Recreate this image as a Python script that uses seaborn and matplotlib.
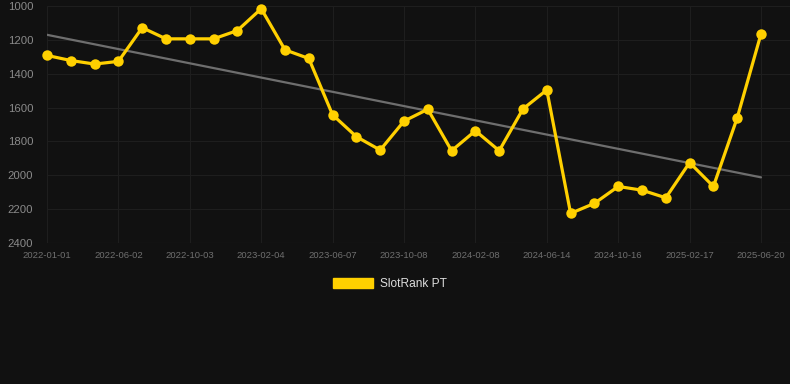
import numpy as np
import pandas as pd
import matplotlib
matplotlib.use("Agg")
import matplotlib.pyplot as plt
from matplotlib.patches import Patch
import seaborn as sns

# data (rank, lower is better)
dates = ["2022-01-01", "2022-02-21", "2022-04-12", "2022-06-02", "2022-07-13",
         "2022-08-23", "2022-10-03", "2022-11-13", "2022-12-25", "2023-02-04",
         "2023-03-17", "2023-04-27", "2023-06-07", "2023-07-18", "2023-08-28",
         "2023-10-08", "2023-11-18", "2023-12-29", "2024-02-08", "2024-03-21",
         "2024-05-03", "2024-06-14", "2024-07-25", "2024-09-04", "2024-10-16",
         "2024-11-26", "2025-01-07", "2025-02-17", "2025-03-30", "2025-05-10",
         "2025-06-20"]
rank = [1292, 1322, 1343, 1327, 1128, 1194, 1194, 1194, 1145, 1016,
        1259, 1310, 1643, 1772, 1851, 1680, 1610, 1855, 1737, 1855,
        1608, 1496, 2225, 2166, 2066, 2088, 2133, 1925, 2066, 1661,
        1165]
y_ticks = [1000, 1200, 1400, 1600, 1800, 2000, 2200, 2400]

df = pd.DataFrame({"date": dates, "rank": rank})
df["pos"] = np.arange(len(df))

bg = "#111111"
gold = "#FFD000"

sns.set_theme(style="dark")
plt.rcParams["font.family"] = ["Liberation Sans", "DejaVu Sans"]

fig = plt.figure(figsize=(7.9, 3.84), dpi=100, facecolor=bg)
ax = fig.add_axes([47 / 790, 1 - 243 / 384, 1 - 47 / 790, (243 - 6) / 384])
ax.set_facecolor(bg)

# trend line (least squares fit)
k, b = np.polyfit(df["pos"], df["rank"], 1)
ax.plot([0, len(df) - 1], [b, k * (len(df) - 1) + b], color="#6e6e6e", lw=1.6, zorder=2)

sns.lineplot(data=df, x="pos", y="rank", ax=ax, color=gold, lw=2.3,
             marker="o", markersize=7.5, markeredgewidth=0, zorder=3, clip_on=False)

ax.set_xlim(0, len(df) - 1 + 29 / 23.8)
ax.set_ylim(2400, 1000)
ax.set_yticks(y_ticks)
ax.set_xticks(df["pos"][::3])
ax.set_xticklabels(df["date"][::3])
ax.tick_params(axis="y", colors="#8a8a8a", labelsize=8.2, length=0, pad=10)
ax.tick_params(axis="x", colors="#6f6f6f", labelsize=6.8, length=0, pad=6)
ax.grid(True, color="#1e1e1e", lw=0.8)
ax.axhline(2400, color="#2a2a2a", lw=0.8, zorder=1)
ax.set_xlabel("")
ax.set_ylabel("")
for s in ax.spines.values():
    s.set_visible(False)

handle = Patch(facecolor=gold, edgecolor=gold)
fig.legend([handle], ["SlotRank PT"], loc="center", bbox_to_anchor=(389.5 / 790, 1 - 284 / 384),
           frameon=False, fontsize=8.6, labelcolor="#dddddd",
           handlelength=3.35, handleheight=1.0, handletextpad=0.58)

fig.savefig("out.png", dpi=100, facecolor=bg)
